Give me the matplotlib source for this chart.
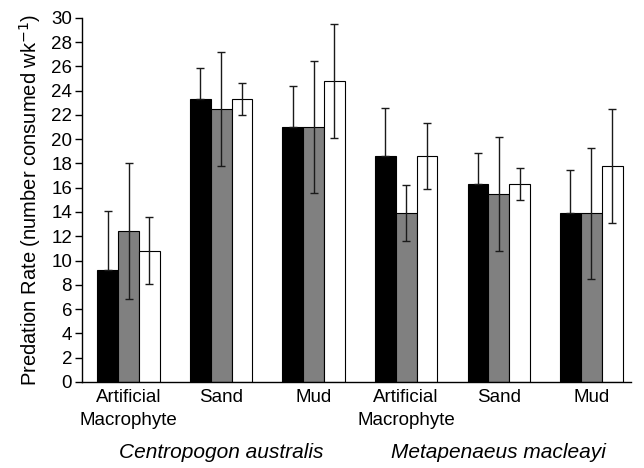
import matplotlib
matplotlib.use("Agg")
import matplotlib.pyplot as plt
import numpy as np

plt.rcParams['font.family'] = ['Liberation Sans', 'DejaVu Sans']

categories = ["Artificial\nMacrophyte", "Sand", "Mud", "Artificial\nMacrophyte", "Sand", "Mud"]
species = ["Centropogon australis", "Metapenaeus macleayi"]

black_vals = [9.2, 23.3, 21.0, 18.6, 16.3, 13.9]
black_err = [4.9, 2.6, 3.4, 4.0, 2.6, 3.55]
gray_vals = [12.4, 22.5, 21.0, 13.9, 15.5, 13.9]
gray_err = [5.6, 4.7, 5.4, 2.3, 4.7, 5.4]
white_vals = [10.8, 23.3, 24.8, 18.6, 16.3, 17.8]
white_err = [2.75, 1.35, 4.7, 2.7, 1.35, 4.7]

fig = plt.figure(figsize=(6.44, 4.68), dpi=100)
ax = fig.add_axes([0.127, 0.184, 0.853, 0.778])

x = np.arange(len(categories))
w = 0.225
ekw = dict(ecolor='#1a1a1a', elinewidth=1.0, capsize=3, capthick=1.0)
ax.bar(x - w, black_vals, w, color='black', edgecolor='black', linewidth=0.8,
       yerr=[np.zeros(len(black_err)), black_err], error_kw=ekw, zorder=2)
ax.bar(x, gray_vals, w, color='#808080', edgecolor='black', linewidth=0.8,
       yerr=gray_err, error_kw=ekw, zorder=2)
ax.bar(x + w, white_vals, w, color='white', edgecolor='black', linewidth=0.8,
       yerr=white_err, error_kw=ekw, zorder=2)

ax.set_xlim(-0.505, 5.43)
ax.set_ylim(0, 30)
ax.set_yticks(np.arange(0, 31, 2))
ax.tick_params(axis='y', direction='out', length=5, width=1, labelsize=13.5, pad=2)
ax.set_xticks(x)
ax.set_xticklabels(categories, fontsize=13.5, linespacing=1.45)
ax.tick_params(axis='x', length=0, pad=5)
for s in ['top', 'right']:
    ax.spines[s].set_visible(False)
for s in ['left', 'bottom']:
    ax.spines[s].set_linewidth(1.0)

ax.set_ylabel("Predation Rate (number consumed wk$^{-1}$)", fontsize=14.5, labelpad=6)

ax.text(1, -0.193, species[0], transform=ax.get_xaxis_transform(), ha='center', va='center',
        fontsize=15, style='italic')
ax.text(4, -0.193, species[1], transform=ax.get_xaxis_transform(), ha='center', va='center',
        fontsize=15, style='italic')

fig.savefig("out.png", dpi=100)
